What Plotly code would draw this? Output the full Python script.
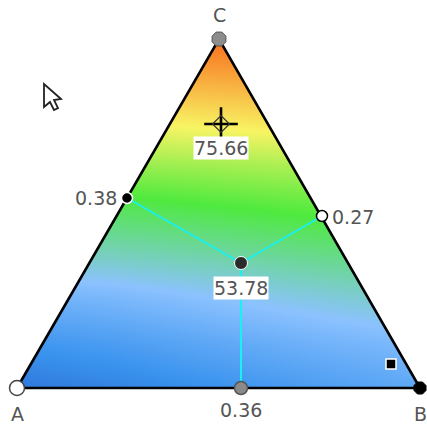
import plotly.graph_objects as go

# triangle corners, in image pixels
corner_x = [17, 420, 219]
corner_y = [388, 388, 39]
corner_names = ["A", "B", "C"]

# colour field
field_x = [17, 118, 219, 320, 420]
field_y = [39, 84, 128, 166, 205, 251, 298, 343, 388]
field_z = [
    [0.96, 0.98, 1.00, 1.00, 1.00],
    [0.84, 0.86, 0.875, 0.89, 0.90],
    [0.71, 0.73, 0.75, 0.77, 0.79],
    [0.58, 0.60, 0.62, 0.64, 0.66],
    [0.44, 0.47, 0.50, 0.53, 0.55],
    [0.32, 0.345, 0.375, 0.41, 0.44],
    [0.18, 0.21, 0.25, 0.29, 0.33],
    [0.08, 0.11, 0.15, 0.19, 0.22],
    [0.00, 0.03, 0.07, 0.11, 0.15],
]
field_colors = [
    [0.0, "#2f78dc"],
    [0.07, "#3a93ee"],
    [0.25, "#8cc2ff"],
    [0.5, "#4fea3e"],
    [0.75, "#f8f464"],
    [1.0, "#f8701e"],
]

# centre point and where its lines meet the sides
centre = (241, 263)
side_x = [127, 322, 241]
side_y = [198, 216, 388]
side_labels = ["0.38", "0.27", "0.36"]

probe = (221, 124)
probe_value = "75.66"
centre_value = "53.78"
handle = (391, 364)
pointer_path = "M44,84 L44,107 L50,102 L54,110 L58,108 L54,100 L61,99 Z"

TEXT = "#555555"
W, H = 427, 426

fig = go.Figure()
fig.add_trace(go.Heatmap(x=field_x, y=field_y, z=field_z, zmin=0, zmax=1,
                         colorscale=field_colors, zsmooth="best",
                         showscale=False, hoverinfo="skip"))

# white sheet with a triangular hole hides the field outside the triangle
fig.add_trace(go.Scatter(
    x=[-5, W + 5, W + 5, -5, -5] + corner_x + [corner_x[0], -5, -5],
    y=[-5, -5, H + 5, H + 5, corner_y[0]] + corner_y + [corner_y[0], corner_y[0], -5],
    mode="lines", fill="toself", fillcolor="white",
    line=dict(width=0), hoverinfo="skip"))

fig.add_trace(go.Scatter(x=corner_x + [corner_x[0]], y=corner_y + [corner_y[0]],
                         mode="lines", line=dict(color="black", width=2.6)))

for sx, sy in zip(side_x, side_y):
    fig.add_trace(go.Scatter(x=[centre[0], sx], y=[centre[1], sy], mode="lines",
                             line=dict(color="#19f0f0", width=2)))

# side points (opacity set, a size array would make them see-through)
fig.add_trace(go.Scatter(x=side_x, y=side_y, mode="markers",
                         marker=dict(size=[11, 11, 13], opacity=1,
                                     color=["black", "white", "#8a8a8a"],
                                     line=dict(color=["white", "black", "#555555"], width=1.5))))
# corners
fig.add_trace(go.Scatter(x=corner_x[:1], y=corner_y[:1], mode="markers",
                         marker=dict(size=15, color="white", line=dict(color="#444444", width=1.5))))
fig.add_trace(go.Scatter(x=corner_x[1:], y=corner_y[1:], mode="markers",
                         marker=dict(size=[13, 15], symbol="octagon", opacity=1,
                                     color=["black", "#8c8c8c"],
                                     line=dict(color=["black", "#555555"], width=1))))
fig.add_trace(go.Scatter(x=[centre[0]], y=[centre[1]], mode="markers",
                         marker=dict(size=13, color="#2b2b2b", line=dict(color="white", width=1))))
fig.add_trace(go.Scatter(x=[handle[0]], y=[handle[1]], mode="markers",
                         marker=dict(size=10, symbol="square", color="black",
                                     line=dict(color="white", width=1.5))))
# crosshair on the probe
fig.add_trace(go.Scatter(x=[probe[0]], y=[probe[1]], mode="markers",
                         marker=dict(size=24, symbol="cross-thin-open", color="black",
                                     line=dict(color="black", width=2.6))))
fig.add_trace(go.Scatter(x=[probe[0]], y=[probe[1]], mode="markers",
                         marker=dict(size=13, symbol="diamond-open", color="#333333",
                                     line=dict(color="#333333", width=1.2))))

label_font = dict(family="DejaVu Sans", size=19, color=TEXT)
labels = [
    (corner_x[0], 414, corner_names[0], None),
    (corner_x[1], 414, corner_names[1], None),
    (corner_x[2], 15, corner_names[2], None),
    (96, 198, side_labels[0], None),
    (353, 217, side_labels[1], None),
    (241, 410, side_labels[2], None),
    (221, 148, probe_value, "white"),
    (241, 288, centre_value, "white"),
]
for lx, ly, text, bg in labels:
    fig.add_annotation(x=lx, y=ly, text=text, showarrow=False, font=label_font,
                       bgcolor=bg, borderpad=0)

fig.update_layout(
    width=W, height=H,
    margin=dict(l=0, r=0, t=0, b=0),
    showlegend=False,
    plot_bgcolor="white",
    paper_bgcolor="white",
    xaxis=dict(visible=False, range=[0, W]),
    yaxis=dict(visible=False, range=[H, 0]),
    shapes=[dict(type="path", path=pointer_path, xref="x", yref="y",
                 fillcolor="white", line=dict(color="#222222", width=1.8))],
)

# page margin would push the figure off the window
fig.write_html("out.html", config={"displayModeBar": False},
               post_script="document.body.style.margin='0';")
